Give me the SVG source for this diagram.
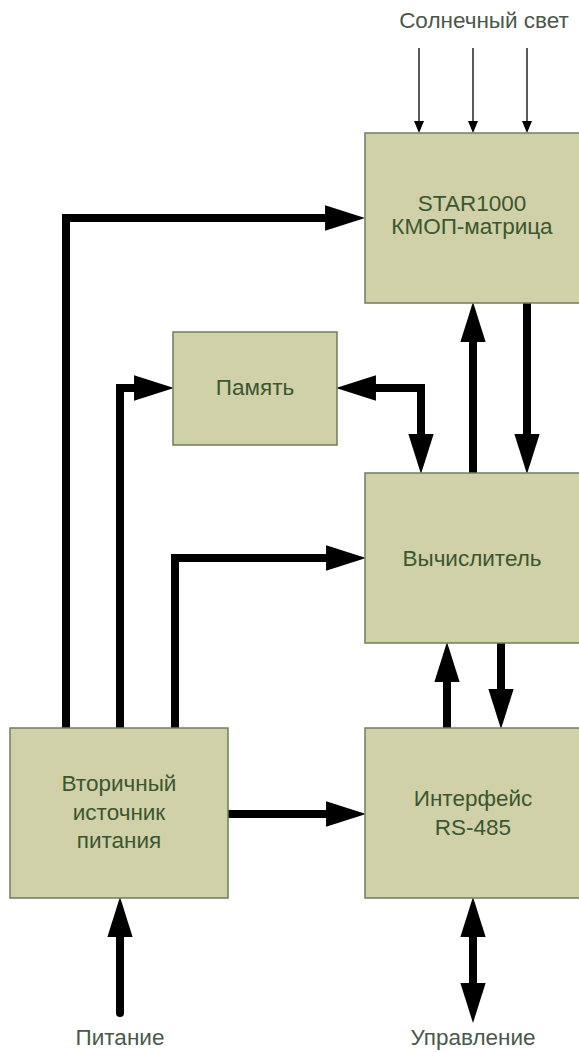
<svg xmlns="http://www.w3.org/2000/svg" width="579" height="1052" viewBox="0 0 579 1052">
  <defs>
    <style>
      .box { fill: #d0d0a9; stroke: #6f7d5c; stroke-width: 1.5; }
      .lbl { font-family: "Liberation Sans", Arial, sans-serif; font-size: 22.5px; fill: #3c5630; text-anchor: middle; }
      .ext { font-family: "Liberation Sans", Arial, sans-serif; font-size: 22.5px; fill: #4a5848; text-anchor: middle; }
      .thick { fill: none; stroke: #000; stroke-width: 8; stroke-linejoin: miter; }
      .thin { fill: none; stroke: #000; stroke-width: 1.3; }
    </style>
    <marker id="ah" markerUnits="userSpaceOnUse" markerWidth="40" markerHeight="26" refX="18" refY="12" orient="auto-start-reverse" viewBox="0 0 38 24">
      <path d="M0,0 L38,12 L0,24 z" fill="#000"/>
    </marker>
    <marker id="ahs" markerUnits="userSpaceOnUse" markerWidth="12" markerHeight="10" refX="10" refY="5" orient="auto" viewBox="0 0 12 10">
      <path d="M0,0 L12,5 L0,10 z" fill="#000"/>
    </marker>
  </defs>

  <g id="connectors">
    <path class="thin" d="M419,48 V131" marker-end="url(#ahs)"/>
    <path class="thin" d="M473,48 V131" marker-end="url(#ahs)"/>
    <path class="thin" d="M527,48 V131" marker-end="url(#ahs)"/>
    <path class="thick" d="M66,728 V218 H344" marker-end="url(#ah)"/>
    <path class="thick" d="M120,728 V388 H153" marker-end="url(#ah)"/>
    <path class="thick" d="M175,728 V558 H345" marker-end="url(#ah)"/>
    <path class="thick" d="M357,388 H421 V453" marker-start="url(#ah)" marker-end="url(#ah)"/>
    <path class="thick" d="M473,473 V323" marker-end="url(#ah)"/>
    <path class="thick" d="M527,303 V453" marker-end="url(#ah)"/>
    <path class="thick" d="M447,728 V663" marker-end="url(#ah)"/>
    <path class="thick" d="M501,643 V708" marker-end="url(#ah)"/>
    <path class="thick" d="M228,814 H345" marker-end="url(#ah)"/>
    <path class="thick" d="M120,1013 V918" marker-end="url(#ah)"/>
    <path class="thick" d="M473,918 V1002" marker-start="url(#ah)" marker-end="url(#ah)"/>
    <g fill="#000">
      <circle cx="66" cy="728" r="4"/>
      <circle cx="120" cy="728" r="4"/>
      <circle cx="175" cy="728" r="4"/>
      <circle cx="473" cy="473" r="4"/>
      <circle cx="527" cy="303" r="4"/>
      <circle cx="447" cy="728" r="4"/>
      <circle cx="501" cy="643" r="4"/>
      <circle cx="228" cy="814" r="4"/>
      <circle cx="120" cy="1013" r="4"/>
    </g>
  </g>

  <g id="sun">
    <text class="ext" x="484" y="28">Солнечный свет</text>
  </g>
  <g id="star">
    <rect class="box" x="365" y="133" width="220" height="170"/>
    <text class="lbl" x="472" y="211">STAR1000</text>
    <text class="lbl" x="472" y="234">КМОП-матрица</text>
  </g>
  <g id="memory">
    <rect class="box" x="173" y="332" width="164" height="113"/>
    <text class="lbl" x="255" y="395">Память</text>
  </g>
  <g id="cpu">
    <rect class="box" x="365" y="473" width="220" height="170"/>
    <text class="lbl" x="472" y="566">Вычислитель</text>
  </g>
  <g id="psu">
    <rect class="box" x="10" y="728" width="218" height="170"/>
    <text class="lbl" x="119" y="791">Вторичный</text>
    <text class="lbl" x="119" y="820">источник</text>
    <text class="lbl" x="119" y="848">питания</text>
  </g>
  <g id="iface">
    <rect class="box" x="365" y="728" width="220" height="170"/>
    <text class="lbl" x="473" y="806">Интерфейс</text>
    <text class="lbl" x="473" y="835">RS-485</text>
  </g>
  <g id="power">
    <text class="ext" x="120" y="1045">Питание</text>
  </g>
  <g id="control">
    <text class="ext" x="473" y="1045">Управление</text>
  </g>
</svg>
